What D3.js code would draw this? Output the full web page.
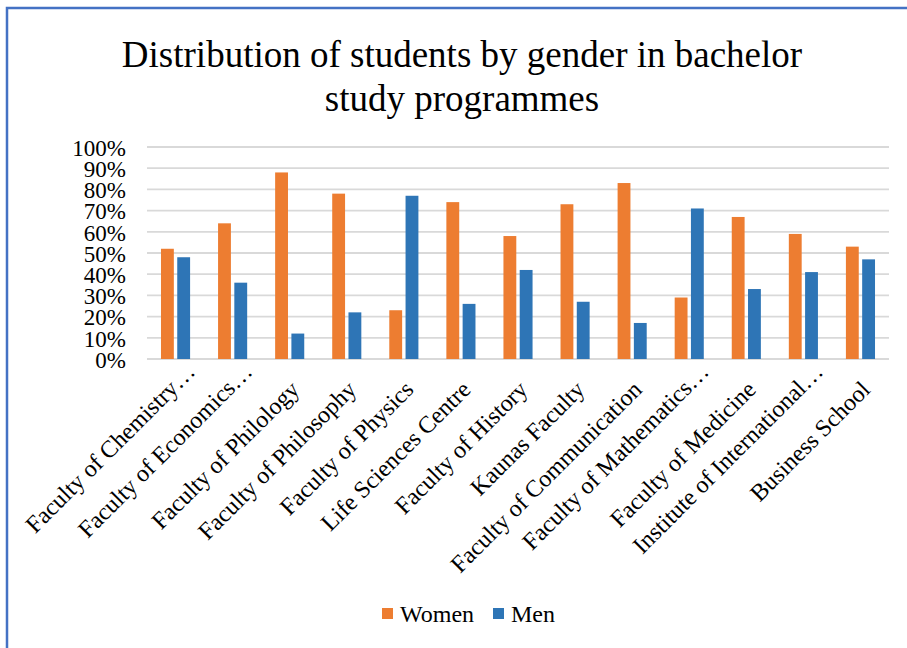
<!DOCTYPE html>
<html>
<head>
<meta charset="utf-8">
<script src="https://cdn.jsdelivr.net/npm/d3@7"></script>
<style>
  body { margin: 0; background: #fff; }
  svg text { font-family: "Liberation Serif", "Times New Roman", serif; fill: #000; }
</style>
</head>
<body>
<svg id="chart" width="907" height="648"></svg>
<script>
var categories = [
	"Faculty of Chemistry\u2026", "Faculty of Economics\u2026", "Faculty of Philology",
	"Faculty of Philosophy", "Faculty of Physics", "Life Sciences Centre",
	"Faculty of History", "Kaunas Faculty", "Faculty of Communication",
	"Faculty of Mathematics\u2026", "Faculty of Medicine", "Institute of International\u2026",
	"Business School"
];
var women = [0.52, 0.64, 0.88, 0.78, 0.23, 0.74, 0.58, 0.73, 0.83, 0.29, 0.67, 0.59, 0.53];
var men   = [0.48, 0.36, 0.12, 0.22, 0.77, 0.26, 0.42, 0.27, 0.17, 0.71, 0.33, 0.41, 0.47];
var seriesNames = ["Women", "Men"];
var colors = ["#ED7D31", "#2E75B6"];
var yTicks = [0, 0.1, 0.2, 0.3, 0.4, 0.5, 0.6, 0.7, 0.8, 0.9, 1];

(function () {
	var svg = d3.select("#chart");

	// frame (only top + left edges show in the screenshot)
	svg.append("path")
		.attr("d", "M7,648V8H907")
		.attr("fill", "none")
		.attr("stroke", "#4472C4")
		.attr("stroke-width", 2.5);

	var title = svg.append("text")
		.attr("text-anchor", "middle")
		.style("font-size", "37px");
	title.append("tspan").attr("x", 462).attr("y", 67).text("Distribution of students by gender in bachelor");
	title.append("tspan").attr("x", 462).attr("y", 111).text("study programmes");

	var left = 147, right = 889, top = 147, bottom = 359;

	var x0 = d3.scaleBand().domain(categories).range([left, right]);
	var bw = x0.bandwidth();
	var x1 = d3.scaleBand().domain(seriesNames).range([bw * 0.245, bw * 0.755]).paddingInner(0.21);
	var y = d3.scaleLinear().domain([0, 1]).range([bottom, top]);

	// gridlines
	svg.append("g")
		.selectAll("line")
		.data(yTicks)
		.enter().append("line")
		.attr("x1", left)
		.attr("x2", right)
		.attr("y1", function (d) { return y(d); })
		.attr("y2", function (d) { return y(d); })
		.attr("stroke", "#d9d9d9")
		.attr("stroke-width", 1.8);

	// y axis labels
	var yAxis = svg.append("g")
		.attr("transform", "translate(" + left + ",0)")
		.call(d3.axisLeft(y).tickValues(yTicks).tickFormat(d3.format(".0%")).tickSize(0).tickPadding(21));
	yAxis.select(".domain").remove();
	yAxis.selectAll("text")
		.style("font-size", "23px")
		.style("font-family", "Liberation Serif, serif")
		.attr("dy", "0.36em");

	// bars
	var rows = categories.map(function (c, i) {
		return { cat: c, vals: [women[i], men[i]] };
	});
	var groups = svg.append("g")
		.selectAll("g")
		.data(rows)
		.enter().append("g")
		.attr("transform", function (d) { return "translate(" + x0(d.cat) + ",0)"; });
	groups.selectAll("rect")
		.data(function (d) { return d.vals.map(function (v, j) { return { s: seriesNames[j], v: v, j: j }; }); })
		.enter().append("rect")
		.attr("x", function (d) { return x1(d.s); })
		.attr("width", x1.bandwidth())
		.attr("y", function (d) { return y(d.v); })
		.attr("height", function (d) { return bottom - y(d.v); })
		.attr("fill", function (d) { return colors[d.j]; });

	// category labels, rotated; the cut-off ones sit a bit higher like in Excel
	var xAxis = svg.append("g")
		.attr("transform", "translate(0," + bottom + ")")
		.call(d3.axisBottom(x0).tickSize(0).tickPadding(0));
	xAxis.select(".domain").remove();
	xAxis.selectAll("text")
		.style("font-size", "24px")
		.style("font-family", "Liberation Serif, serif")
		.attr("text-anchor", "end")
		.attr("y", 0)
		.attr("dy", 0)
		.attr("transform", function (d) {
			var cut = d.slice(-1) === "\u2026";
			return cut ? "translate(21,14) rotate(-45)" : "translate(11,32) rotate(-45)";
		});

	// legend
	var legend = svg.append("g").attr("transform", "translate(382,608)");
	var lx = [0, 111];
	seriesNames.forEach(function (s, i) {
		var item = legend.append("g").attr("transform", "translate(" + lx[i] + ",0)");
		item.append("rect").attr("width", 11).attr("height", 11).attr("fill", colors[i]);
		item.append("text").attr("x", 18).attr("y", 14).style("font-size", "24px").text(s);
	});
})();
</script>
</body>
</html>
